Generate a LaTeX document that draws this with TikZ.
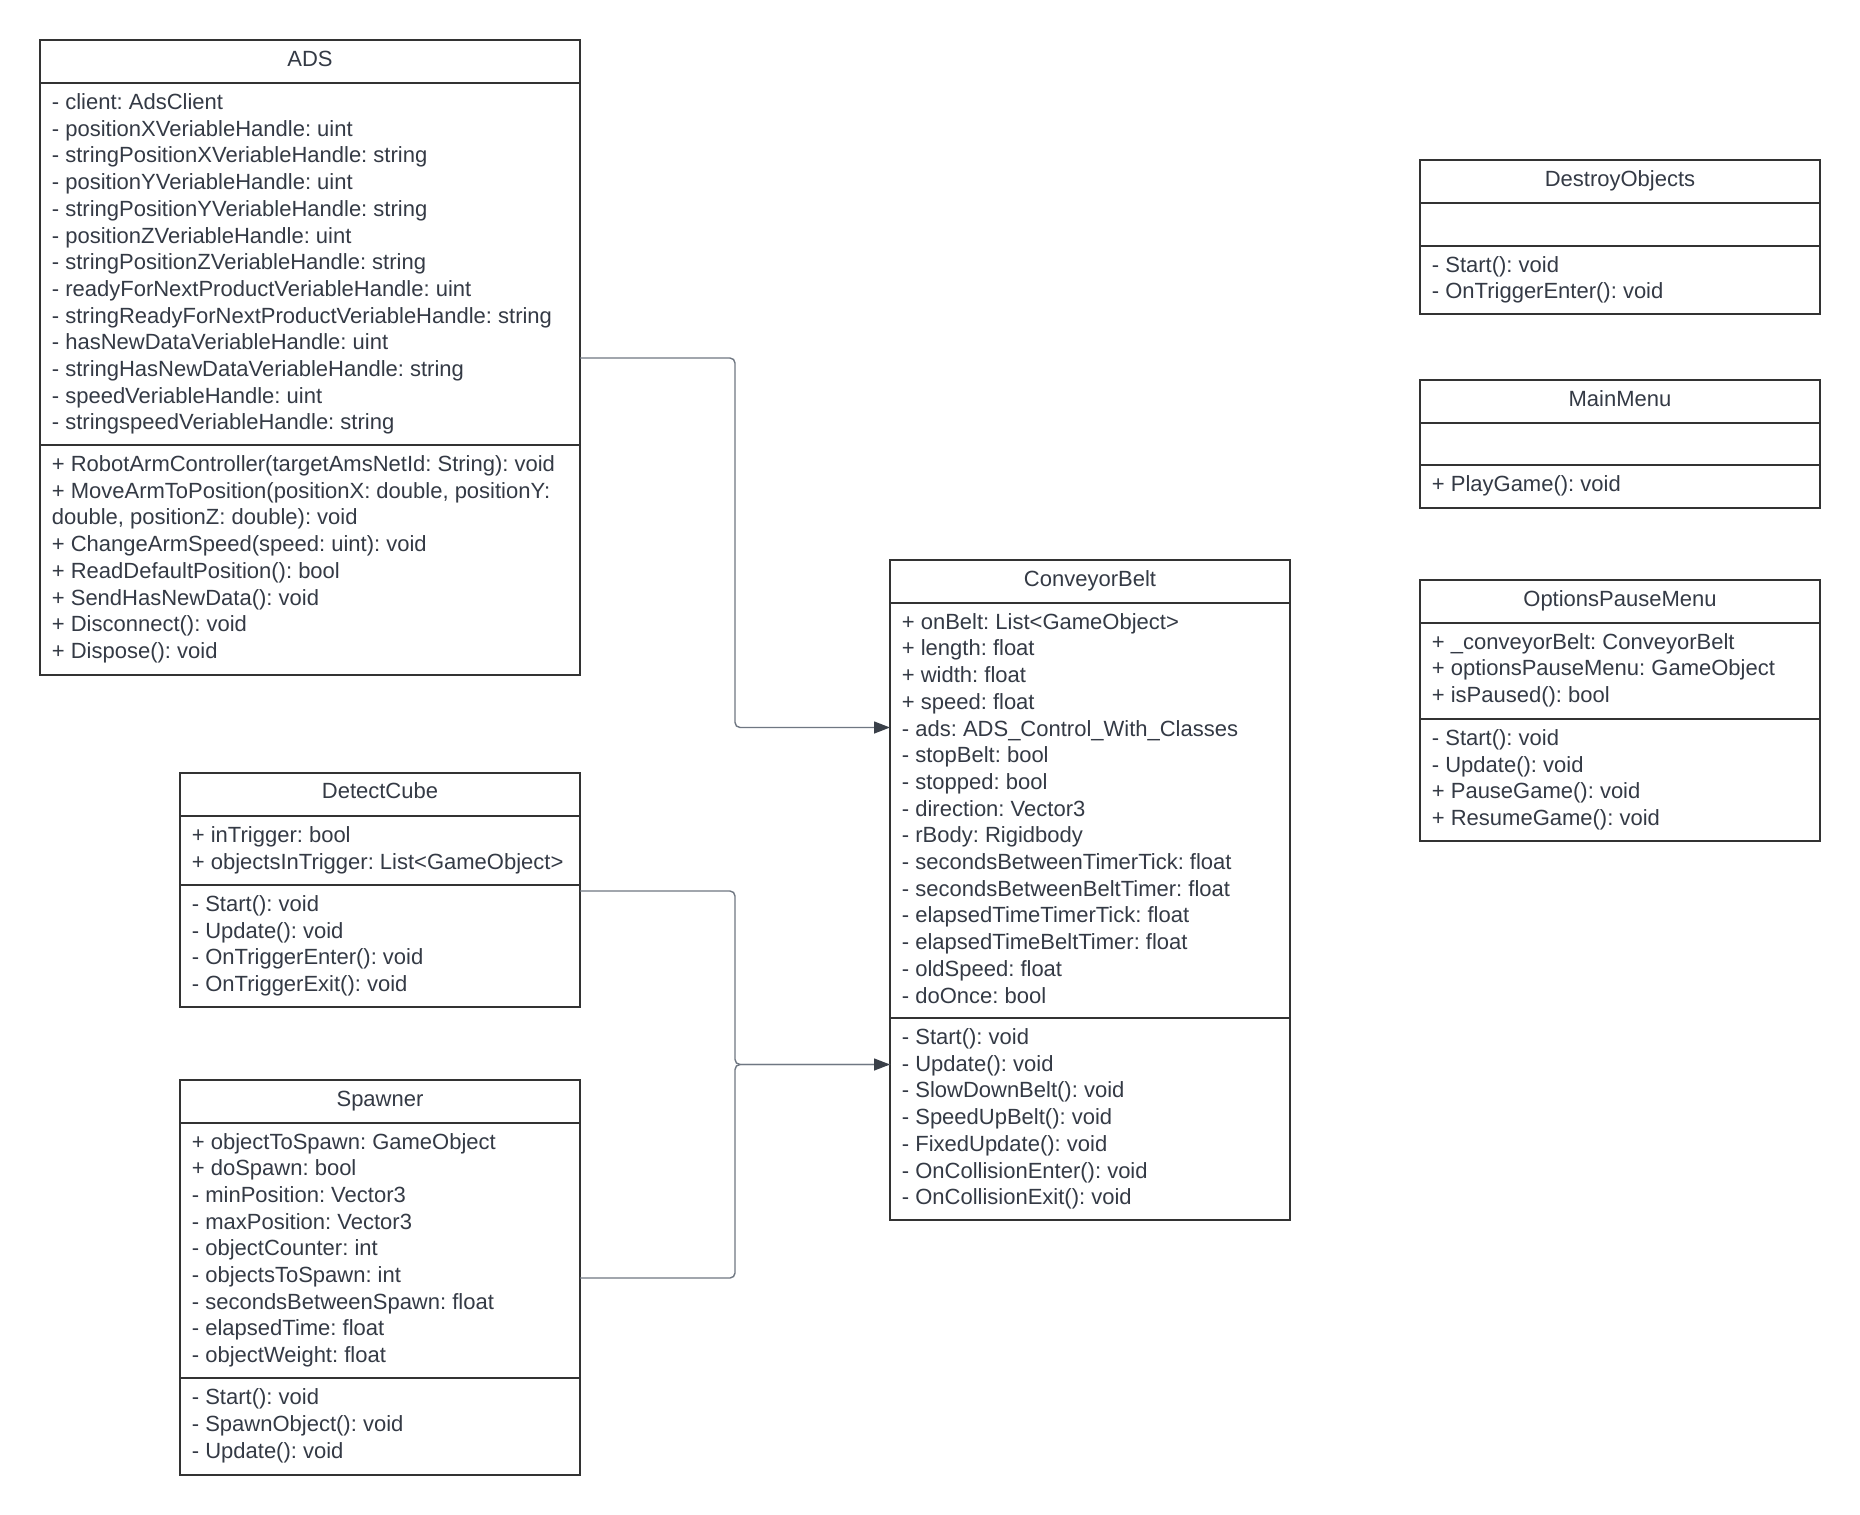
\documentclass[tikz,border=0pt]{standalone}
\usepackage{fontspec}
\setmainfont{Liberation Sans}
\usetikzlibrary{arrows.meta}
\frenchspacing

\definecolor{umltext}{HTML}{343A45}
\definecolor{umlborder}{HTML}{333333}
\definecolor{umllink}{HTML}{6F7782}
\definecolor{umltip}{HTML}{3A4049}

\tikzset{
  classframe/.style={draw=umlborder, line width=1pt, fill=white, inner sep=0pt, outer sep=0pt, anchor=north west},
  compline/.style={draw=umlborder, line width=1pt},
  rowtext/.style={anchor=base west, inner sep=0pt, text=umltext, font=\fontsize{11}{13.35}\selectfont},
  titletext/.style={anchor=base, inner sep=0pt, text=umltext, font=\fontsize{11}{13.35}\selectfont},
  link/.style={draw=umllink, line width=0.7pt, rounded corners=2.5pt},
  linkarrow/.style={link, -{Triangle[length=8pt,width=6pt,color=umltip]}},
}

% rows of a compartment: name prefix, text x, first baseline, list of lines
\newcommand{\classrows}[4]{%
  \foreach \rowtxt [count=\k from 0] in {#4} {%
    \node[rowtext] (#1\k) at (#2, {#3+\k*26.7}) {\rowtxt};
  }%
}

\begin{document}
\begin{tikzpicture}[x=0.5pt,y=-0.5pt]
\fill[white] (0,0) rectangle (1860,1515);
\useasboundingbox (0,0) rectangle (1860,1515);

% ---------------- ADS ----------------
\node[classframe, minimum width=270pt, minimum height=317.5pt] (ads) at (40,40) {};
\draw[compline] (40,83) -- (580,83);
\draw[compline] (40,445) -- (580,445);
\node[titletext] (adsT) at (310,66) {ADS};
\classrows{adsA}{51.5}{109.5}{
  - client: AdsClient,
  - positionXVeriableHandle: uint,
  - stringPositionXVeriableHandle: string,
  - positionYVeriableHandle: uint,
  - stringPositionYVeriableHandle: string,
  - positionZVeriableHandle: uint,
  - stringPositionZVeriableHandle: string,
  - readyForNextProductVeriableHandle: uint,
  - stringReadyForNextProductVeriableHandle: string,
  - hasNewDataVeriableHandle: uint,
  - stringHasNewDataVeriableHandle: string,
  - speedVeriableHandle: uint,
  - stringspeedVeriableHandle: string}
\classrows{adsM}{51.5}{471.5}{
  + RobotArmController(targetAmsNetId: String): void,
  {+ MoveArmToPosition(positionX: double, positionY:},
  {double, positionZ: double): void},
  + ChangeArmSpeed(speed: uint): void,
  + ReadDefaultPosition(): bool,
  + SendHasNewData(): void,
  + Disconnect(): void,
  + Dispose(): void}

% ---------------- DestroyObjects ----------------
\node[classframe, minimum width=200pt, minimum height=77pt] (destroy) at (1420,160) {};
\draw[compline] (1420,203) -- (1820,203);
\draw[compline] (1420,245.5) -- (1820,245.5);
\node[titletext] (destroyT) at (1620,186) {DestroyObjects};
\classrows{destroyM}{1431.5}{272}{
  - Start(): void,
  - OnTriggerEnter(): void}

% ---------------- MainMenu ----------------
\node[classframe, minimum width=200pt, minimum height=63.85pt] (mainmenu) at (1420,380) {};
\draw[compline] (1420,422.7) -- (1820,422.7);
\draw[compline] (1420,465) -- (1820,465);
\node[titletext] (mainmenuT) at (1620,406) {MainMenu};
\classrows{mainmenuM}{1431.5}{491.5}{
  + PlayGame(): void}

% ---------------- OptionsPauseMenu ----------------
\node[classframe, minimum width=200pt, minimum height=130.5pt] (options) at (1420,580) {};
\draw[compline] (1420,622.7) -- (1820,622.7);
\draw[compline] (1420,719) -- (1820,719);
\node[titletext] (optionsT) at (1620,606) {OptionsPauseMenu};
\classrows{optionsA}{1431.5}{649.2}{
  + \_conveyorBelt: ConveyorBelt,
  + optionsPauseMenu: GameObject,
  + isPaused(): bool}
\classrows{optionsM}{1431.5}{745.5}{
  - Start(): void,
  - Update(): void,
  + PauseGame(): void,
  + ResumeGame(): void}

% ---------------- DetectCube ----------------
\node[classframe, minimum width=200pt, minimum height=117.25pt] (cube) at (180,772.5) {};
\draw[compline] (180,816) -- (580,816);
\draw[compline] (180,885) -- (580,885);
\node[titletext] (cubeT) at (380,798.5) {DetectCube};
\classrows{cubeA}{191.5}{842.5}{
  + inTrigger: bool,
  + objectsInTrigger: List<GameObject>}
\classrows{cubeM}{191.5}{911.5}{
  - Start(): void,
  - Update(): void,
  - OnTriggerEnter(): void,
  - OnTriggerExit(): void}

% ---------------- Spawner ----------------
\node[classframe, minimum width=200pt, minimum height=197.5pt] (spawner) at (180,1080) {};
\draw[compline] (180,1122.5) -- (580,1122.5);
\draw[compline] (180,1378.3) -- (580,1378.3);
\node[titletext] (spawnerT) at (380,1106) {Spawner};
\classrows{spawnerA}{191.5}{1149}{
  + objectToSpawn: GameObject,
  + doSpawn: bool,
  - minPosition: Vector3,
  - maxPosition: Vector3,
  - objectCounter: int,
  - objectsToSpawn: int,
  - secondsBetweenSpawn: float,
  - elapsedTime: float,
  - objectWeight: float}
\classrows{spawnerM}{191.5}{1404.8}{
  - Start(): void,
  - SpawnObject(): void,
  - Update(): void}

% ---------------- ConveyorBelt ----------------
\node[classframe, minimum width=200pt, minimum height=330pt] (belt) at (890,560) {};
\draw[compline] (890,602.7) -- (1290,602.7);
\draw[compline] (890,1018) -- (1290,1018);
\node[titletext] (beltT) at (1090,586) {ConveyorBelt};
\classrows{beltA}{901.5}{629.2}{
  + onBelt: List<GameObject>,
  + length: float,
  + width: float,
  + speed: float,
  - ads: ADS\_Control\_With\_Classes,
  - stopBelt: bool,
  - stopped: bool,
  - direction: Vector3,
  - rBody: Rigidbody,
  - secondsBetweenTimerTick: float,
  - secondsBetweenBeltTimer: float,
  - elapsedTimeTimerTick: float,
  - elapsedTimeBeltTimer: float,
  - oldSpeed: float,
  - doOnce: bool}
\classrows{beltM}{901.5}{1044.5}{
  - Start(): void,
  - Update(): void,
  - SlowDownBelt(): void,
  - SpeedUpBelt(): void,
  - FixedUpdate(): void,
  - OnCollisionEnter(): void,
  - OnCollisionExit(): void}

% ---------------- connectors ----------------
\coordinate (busx) at (735,0);
\coordinate (adsport) at ([yshift=-159pt]ads.north east);
\coordinate (cubeport) at ([yshift=-59.25pt]cube.north east);
\coordinate (spawnport) at ([yshift=-99pt]spawner.north east);
\coordinate (beltin1) at ([yshift=-83.75pt]belt.north west);
\coordinate (beltin2) at ([yshift=-252.25pt]belt.north west);

\draw[linkarrow] (adsport) -- (adsport -| busx) -- (beltin1 -| busx) -- (beltin1);
\draw[link] (spawnport) -- (spawnport -| busx) -- (beltin2 -| busx) -- (beltin2);
\draw[linkarrow] (cubeport) -- (cubeport -| busx) -- (beltin2 -| busx) -- (beltin2);
\end{tikzpicture}
\end{document}
